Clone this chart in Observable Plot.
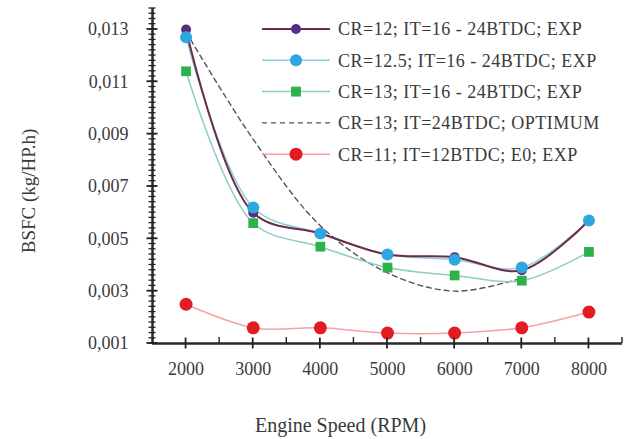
<!DOCTYPE html>
<html><head><meta charset="utf-8">
<script src="https://cdn.jsdelivr.net/npm/d3@7"></script>
<script src="https://cdn.jsdelivr.net/npm/@observablehq/plot@0.6"></script>
<style>
body{margin:0;background:#fff;}
#wrap{width:629px;height:439px;font-family:"Liberation Serif",serif;}
</style></head><body><div id="wrap"></div>
<script>
// ---- data ----
const rpm = [2000, 3000, 4000, 5000, 6000, 7000, 8000];
const bsfcCR12 = [0.0130, 0.0060, 0.0052, 0.0044, 0.0043, 0.0038, 0.0057];
const bsfcCR125 = [0.0127, 0.0062, 0.0052, 0.0044, 0.0042, 0.0039, 0.0057];
const bsfcCR13 = [0.0114, 0.0056, 0.0047, 0.0039, 0.0036, 0.0034, 0.0045];
const rpmOptimum = [2000, 3000, 4000, 5000, 6000, 7000];
const bsfcOptimum = [0.0129, 0.0088, 0.0055, 0.0037, 0.0030, 0.0035];
const bsfcCR11 = [0.0025, 0.0016, 0.0016, 0.0014, 0.0014, 0.0016, 0.0022];

const seriesNames = [
  "CR=12; IT=16 - 24BTDC; EXP",
  "CR=12.5; IT=16 - 24BTDC; EXP",
  "CR=13; IT=16 - 24BTDC; EXP",
  "CR=13; IT=24BTDC; OPTIMUM",
  "CR=11; IT=12BTDC; E0; EXP"
];
const xTicks = [2000, 3000, 4000, 5000, 6000, 7000, 8000];
const xMinorTicks = [2500, 3500, 4500, 5500, 6500, 7500, 8500];
const yTicks = [0.001, 0.003, 0.005, 0.007, 0.009, 0.011, 0.013];
const xDomain = [1500, 8500];
const yDomain = [0.001, 0.0138];
const yMinorTicks = d3.range(0, 65).map(i => +(0.001 + i * 0.0002).toFixed(4));

// ---- styles ----
const lineColors = ["#6e2a4a", "#86d4d8", "#8ccfbf", "#555555", "#f3a3a3"];
const dotColors = ["#5a2d82", "#2ea6df", "#2db24a", null, "#e31b23"];
const lineWidths = [2, 1.5, 1.5, 1.4, 1.5];
const dotSymbols = ["circle", "circle", "square", null, "circle"];
const dotRadius = [5, 6, 5.5, 0, 6.5];

const rows = (xs, ys) => xs.map((x, i) => ({x, y: ys[i]}));
const series = [
  rows(rpm, bsfcCR12),
  rows(rpm, bsfcCR125),
  rows(rpm, bsfcCR13),
  rows(rpmOptimum, bsfcOptimum),
  rows(rpm, bsfcCR11)
];

const W = 629, H = 439, ML = 152, MR = 7, MT = 8, MB = 96;
const font = '"Liberation Serif", serif';
const fmt = d => d.toFixed(3).replace(".", ",");

const lineOrder = [4, 3, 2, 1, 0];
const dotOrder = [0, 2, 1, 4];

const chart = Plot.plot({
  width: W, height: H,
  marginLeft: ML, marginRight: MR, marginTop: MT, marginBottom: MB,
  style: {fontFamily: font, fontSize: "18px", color: "#3a3a3a", background: "#fff"},
  x: {domain: xDomain},
  y: {domain: yDomain},
  marks: [
    Plot.axisY({ticks: yTicks, tickSize: 0, tickPadding: 24, tickFormat: fmt, label: null, fill: "#3a3a3a"}),
    Plot.axisX({ticks: xTicks, tickSize: 0, tickPadding: 19, tickFormat: d => String(d), label: null, fill: "#3a3a3a"}),
    Plot.ruleX([xDomain[0]], {stroke: "#2a2a2a", strokeWidth: 2.5}),
    Plot.ruleY([yDomain[0]], {stroke: "#2a2a2a", strokeWidth: 2.5}),
    ...lineOrder.map(i => Plot.line(series[i], {
      x: "x", y: "y", curve: "catmull-rom",
      stroke: lineColors[i], strokeWidth: lineWidths[i],
      strokeDasharray: i === 3 ? "5,4" : null
    })),
    ...dotOrder.map(i => Plot.dot(series[i], {
      x: "x", y: "y", r: dotRadius[i], symbol: dotSymbols[i], fill: dotColors[i], stroke: "none"
    })),
    Plot.text(["Engine Speed (RPM)"], {frameAnchor: "bottom", lineAnchor: "middle", textAnchor: "middle", dy: 82, dx: -47, fontSize: 20, fill: "#3a3a3a"}),
    Plot.text(["BSFC (kg/HP.h)"], {frameAnchor: "left", textAnchor: "middle", lineAnchor: "middle", rotate: -90, dx: -124, dy: 15, fontSize: 19, fill: "#3a3a3a"})
  ]
});
const wrap = document.getElementById("wrap");
wrap.appendChild(chart);

// ---- axis tick marks, positioned through the plot's own scales ----
const sx = chart.scale("x"), sy = chart.scale("y");
const x0 = sx.apply(xDomain[0]), y0 = sy.apply(yDomain[0]);
const tk = d3.select(chart).append("g").attr("aria-label", "axis ticks").attr("stroke", "#222");
tk.selectAll(".ymin").data(yMinorTicks).join("line")
  .attr("x1", x0 - 3.5).attr("x2", x0 + 3.5).attr("y1", d => sy.apply(d)).attr("y2", d => sy.apply(d)).attr("stroke-width", 1.3);
tk.selectAll(".ymaj").data(yTicks).join("line")
  .attr("x1", x0 - 5.5).attr("x2", x0 + 5.5).attr("y1", d => sy.apply(d)).attr("y2", d => sy.apply(d)).attr("stroke-width", 1.8);
tk.selectAll(".xmin").data(xMinorTicks).join("line")
  .attr("x1", d => sx.apply(d)).attr("x2", d => sx.apply(d)).attr("y1", y0 - 6).attr("y2", y0).attr("stroke-width", 1.4);
tk.selectAll(".xmaj").data(xTicks).join("line")
  .attr("x1", d => sx.apply(d)).attr("x2", d => sx.apply(d)).attr("y1", y0 - 5.5).attr("y2", y0 + 5.5).attr("stroke-width", 1.8);

// ---- legend, drawn inside the plot's own svg ----
const legendX = 262, legendY0 = 29, legendDy = 31.3;
const lg = d3.select(chart).append("g").attr("aria-label", "legend").attr("text-anchor", "start");
seriesNames.forEach((name, i) => {
  const y = legendY0 + i * legendDy;
  const g = lg.append("g");
  g.append("line").attr("x1", legendX).attr("x2", legendX + 68).attr("y1", y).attr("y2", y)
    .attr("stroke", lineColors[i]).attr("stroke-width", lineWidths[i])
    .attr("stroke-dasharray", i === 3 ? "5,4" : null);
  if (dotColors[i]) {
    const sym = dotSymbols[i] === "square" ? d3.symbolSquare : d3.symbolCircle;
    const r = dotRadius[i];
    const size = dotSymbols[i] === "square" ? (2 * r * 0.9) ** 2 : Math.PI * r * r;
    g.append("path").attr("d", d3.symbol(sym, size)()).attr("transform", `translate(${legendX + 34},${y})`)
      .attr("fill", dotColors[i]);
  }
  g.append("text").attr("x", legendX + 76).attr("y", y).attr("dy", "0.35em").attr("text-anchor", "start")
    .attr("font-family", font).attr("font-size", 18).attr("letter-spacing", "0.5px")
    .attr("fill", "#3a3a3a").text(name);
});
</script></body></html>
